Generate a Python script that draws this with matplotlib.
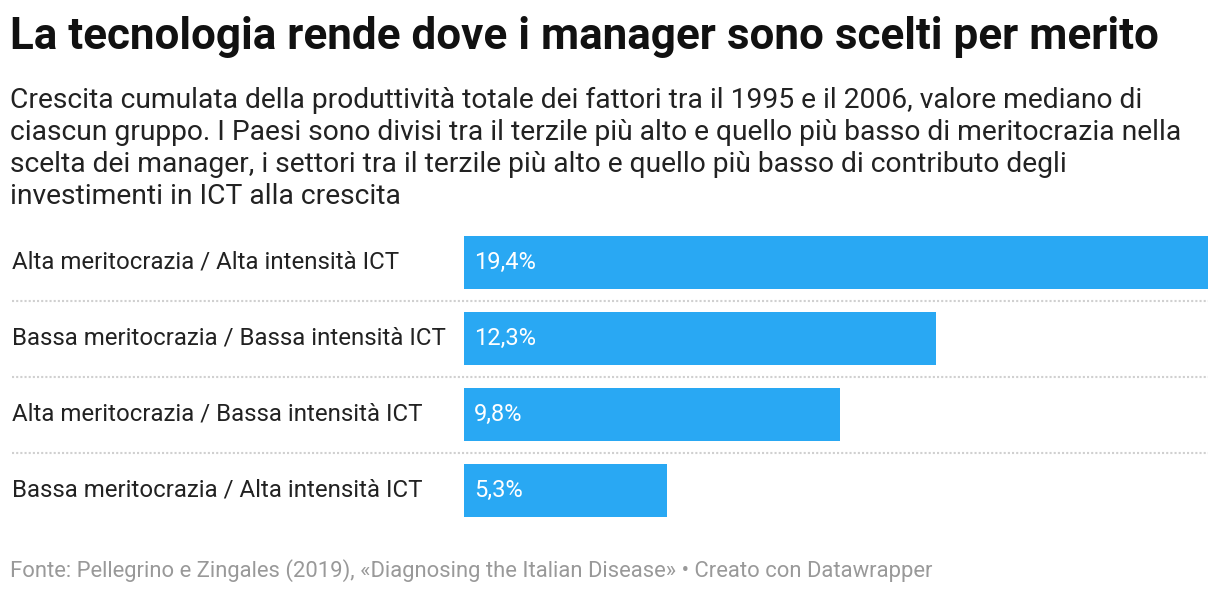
import matplotlib
matplotlib.use("Agg")
import matplotlib.pyplot as plt
import matplotlib.transforms as mtransforms

plt.rcParams['font.family'] = ['Roboto', 'DejaVu Sans']

# dati
categories = [
    "Alta meritocrazia / Alta intensità ICT",
    "Bassa meritocrazia / Bassa intensità ICT",
    "Alta meritocrazia / Bassa intensità ICT",
    "Bassa meritocrazia / Alta intensità ICT",
]
values = [19.4, 12.3, 9.8, 5.3]
value_labels = ["19,4%", "12,3%", "9,8%", "5,3%"]

title = "La tecnologia rende dove i manager sono scelti per merito"
subtitle_lines = [
    "Crescita cumulata della produttività totale dei fattori tra il 1995 e il 2006, valore mediano di",
    "ciascun gruppo. I Paesi sono divisi tra il terzile più alto e quello più basso di meritocrazia nella",
    "scelta dei manager, i settori tra il terzile più alto e quello più basso di contributo degli",
    "investimenti in ICT alla crescita",
]
footer = "Fonte: Pellegrino e Zingales (2019), «Diagnosing the Italian Disease» • Creato con Datawrapper"

W, H = 1220, 594
fig = plt.figure(figsize=(W / 100, H / 100), dpi=100)
fig.patch.set_facecolor('white')

# assi in pixel
left, right = 464, 1208
top, bottom = 224.5, 528.5
ax = fig.add_axes([left / W, 1 - bottom / H, (right - left) / W, (bottom - top) / H])
ax.set_xlim(0, max(values))
ax.set_ylim(len(values) - 0.5, -0.5)
ax.axis('off')

bar_color = '#29a8f3'
ypos = list(range(len(values)))
ax.barh(ypos, values, height=53 / 76, color=bar_color, edgecolor='none')

for y, lab in zip(ypos, value_labels):
    ax.text(0.27, y, lab, color='white', fontsize=17, va='center', ha='left')

# etichette categorie a sinistra
trans = mtransforms.blended_transform_factory(fig.transFigure, ax.transData)
for y, cat in zip(ypos, categories):
    ax.text(12 / W, y, cat, transform=trans, fontsize=17.25, color='#222222',
            va='center', ha='left')

# separatori tratteggiati
for y in [0.5, 1.5, 2.5]:
    ax.plot([12 / W, right / W], [y, y], transform=trans, color='#d0d0d0',
            linewidth=1.5, linestyle=(0, (1, 1)), clip_on=False)

fig.text(10 / W, 1 - 37 / H, title, fontsize=31.7, fontweight='bold',
         color='#111111', va='center', ha='left')

for i, line in enumerate(subtitle_lines):
    fig.text(10 / W, 1 - (100 + i * 32.3) / H, line, fontsize=20.3,
             color='#222222', va='center', ha='left')

fig.text(10 / W, 1 - 571 / H, footer, fontsize=15.8, color='#999999',
         va='center', ha='left')

fig.savefig('out.png', dpi=100, facecolor='white')
